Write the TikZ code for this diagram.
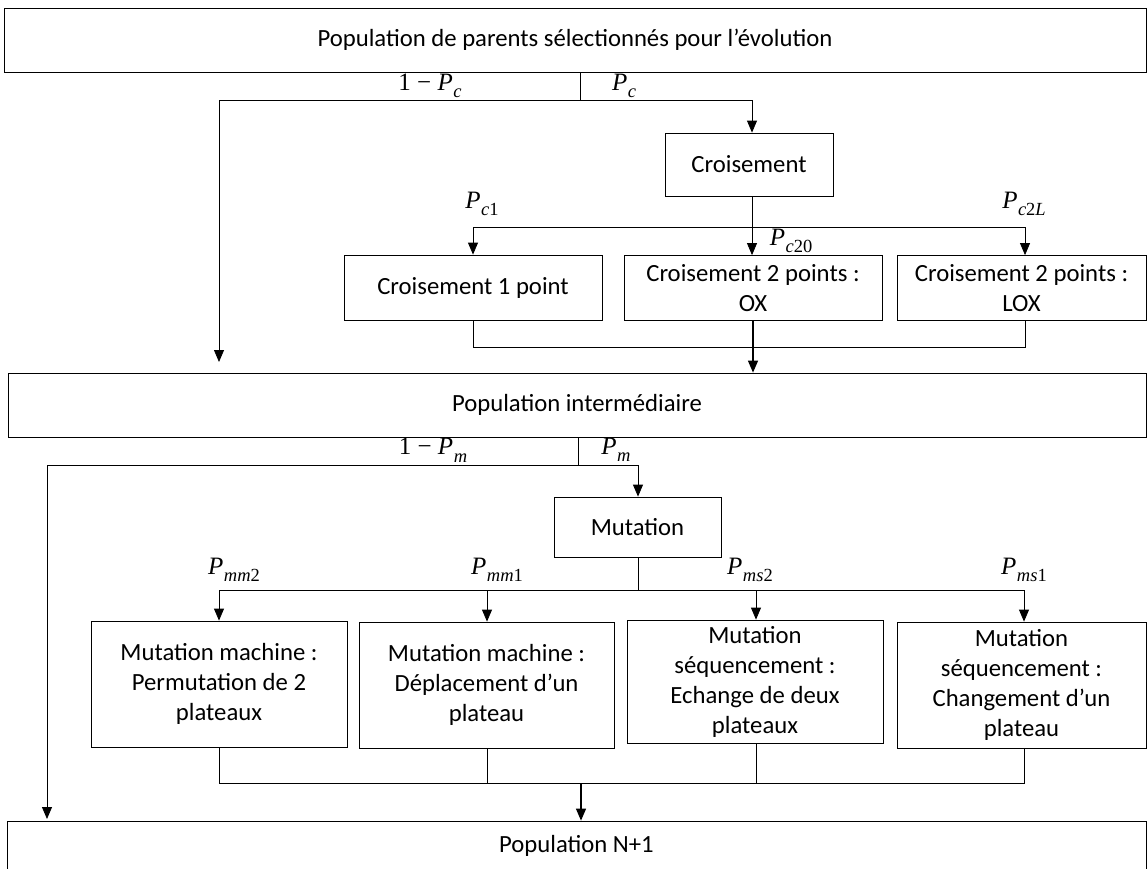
\documentclass[tikz,border=0pt]{standalone}
\usepackage{fontspec}
\setmainfont{Carlito}
\newfontfamily\lbfont{Liberation Serif}
\usetikzlibrary{arrows.meta}
\newcommand\pp[1]{{\itshape P\kern0.5pt\raisebox{-0.3em}{\fontsize{18.5}{18}\selectfont #1}}}
\newcommand\up[1]{{\upshape #1}}
\begin{document}
\begin{tikzpicture}[x=1pt,y=-1pt,
  box/.style={draw, line width=0.8pt, inner sep=0pt, align=center,
    font=\fontsize{24.7}{30}\selectfont},
  ln/.style={line width=0.8pt},
  arr/.style={ln, -{Triangle[length=12pt,width=10pt]}},
  lab/.style={font=\lbfont\fontsize{25}{28}\selectfont, inner sep=0pt}]
\useasboundingbox (0,0) rectangle (1147,868);

% main populations
\node[box, minimum width=1142pt, minimum height=64pt] (pop1) at (575,40)
  {Population de parents sélectionnés pour l’évolution};
\node[box, minimum width=1138pt, minimum height=64pt] (pop2) at (577,405)
  {Population intermédiaire};
\node[box, minimum width=1139pt, minimum height=64pt] (pop3) at (576.5,853) {};
\node[font=\fontsize{24.7}{30}\selectfont, inner sep=0pt] (pop3t) at (576.5,846) {Population N+1};

% croisement
\node[box, minimum width=168pt, minimum height=63pt] (cr) at (749,164.5) {Croisement};
\node[box, minimum width=258pt, minimum height=65pt] (c1) at (473,287.5) {Croisement 1 point};
\node[box, minimum width=258pt, minimum height=65pt] (c2) at (753,288) {Croisement 2 points :\\OX};
\node[box, minimum width=249pt, minimum height=65pt] (c3) at (1021.5,288) {Croisement 2 points :\\LOX};

% mutation
\node[box, minimum width=167pt, minimum height=60pt] (mu) at (637.5,527) {Mutation};
\node[box, minimum width=256pt, minimum height=126pt] (m1) at (219,684)
  {Mutation machine :\\Permutation de 2\\plateaux};
\node[box, minimum width=255pt, minimum height=126pt] (m2) at (486.5,685)
  {Mutation machine :\\Déplacement d’un\\plateau};
\node[box, minimum width=256pt, minimum height=123pt] (m3) at (755,681.5)
  {Mutation\\séquencement :\\Echange de deux\\plateaux};
\node[box, minimum width=249pt, minimum height=126pt] (m4) at (1021.5,685)
  {Mutation\\séquencement :\\Changement d’un\\plateau};

% junction coordinates
\coordinate (s1) at (580,100);
\coordinate (l1) at (219,100);
\coordinate (l1e) at (219,362);
\coordinate (r1) at (752,100);
\coordinate (j1) at (752,227);
\coordinate (j1l) at (473,227);
\coordinate (j1r) at (1025,227);
\coordinate (k1l) at (473,347);
\coordinate (k1r) at (1025,347);
\coordinate (k1c) at (753,347);

\coordinate (s2) at (578,465);
\coordinate (l2) at (47,465);
\coordinate (l2e) at (47,819);
\coordinate (r2) at (638,465);
\coordinate (j2) at (638,590);
\coordinate (j2a) at (219,590);
\coordinate (j2b) at (487,590);
\coordinate (j2c) at (756,590);
\coordinate (j2d) at (1024,590);
\coordinate (k2a) at (219,783);
\coordinate (k2b) at (487,783);
\coordinate (k2c) at (756,783);
\coordinate (k2d) at (1024,783);
\coordinate (k2m) at (581,783);

% connectors: crossover stage
\draw[ln] (pop1.south -| s1) -- (s1);
\draw[arr] (s1) -- (l1) -- (l1e);
\draw[arr] (s1) -- (r1) -- (cr.north -| r1);
\draw[ln] (cr.south -| j1) -- (j1);
\draw[ln] (j1l) -- (j1r);
\draw[arr] (j1l) -- (c1.north -| j1l);
\draw[arr] (j1) -- (c2.north -| j1);
\draw[arr] (j1r) -- (c3.north -| j1r);
\draw[ln] (c1.south -| k1l) -- (k1l) -- (k1r) -- (c3.south -| k1r);
\draw[arr, line width=1.3pt] (c2.south -| k1c) -- (pop2.north -| k1c);

% connectors: mutation stage
\draw[ln] (pop2.south -| s2) -- (s2);
\draw[arr] (s2) -- (l2) -- (l2e);
\draw[arr] (s2) -- (r2) -- (mu.north -| r2);
\draw[ln] (mu.south -| j2) -- (j2);
\draw[ln] (j2a) -- (j2d);
\draw[arr] (j2a) -- (m1.north -| j2a);
\draw[arr] (j2b) -- (m2.north -| j2b);
\draw[arr] (j2c) -- (m3.north -| j2c);
\draw[arr] (j2d) -- (m4.north -| j2d);
\draw[ln] (m1.south -| k2a) -- (k2a) -- (k2d) -- (m4.south -| k2d);
\draw[ln] (m2.south -| k2b) -- (k2b);
\draw[ln] (m3.south -| k2c) -- (k2c);
\draw[arr, line width=1.3pt] (k2m) -- (pop3.north -| k2m);

% probability labels
\node[lab] (lpc0) at (430,86) {1 − \pp{c}};
\node[lab] (lpc) at (624,86) {\pp{c}};
\node[lab] (lpc1) at (482,204) {\pp{c\up{1}}};
\node[lab] (lpc2l) at (1024,204) {\pp{c\up{2}L}};
\node[lab] (lpc20) at (791,241) {\pp{c\up{20}}};
\node[lab] (lpm0) at (433,450) {1 − \pp{m}};
\node[lab] (lpm) at (616,450) {\pp{m}};
\node[lab] (lpmm2) at (234,570) {\pp{mm\up{2}}};
\node[lab] (lpmm1) at (497,570) {\pp{mm\up{1}}};
\node[lab] (lpms2) at (750,570) {\pp{ms\up{2}}};
\node[lab] (lpms1) at (1024,570) {\pp{ms\up{1}}};
\end{tikzpicture}
\end{document}
